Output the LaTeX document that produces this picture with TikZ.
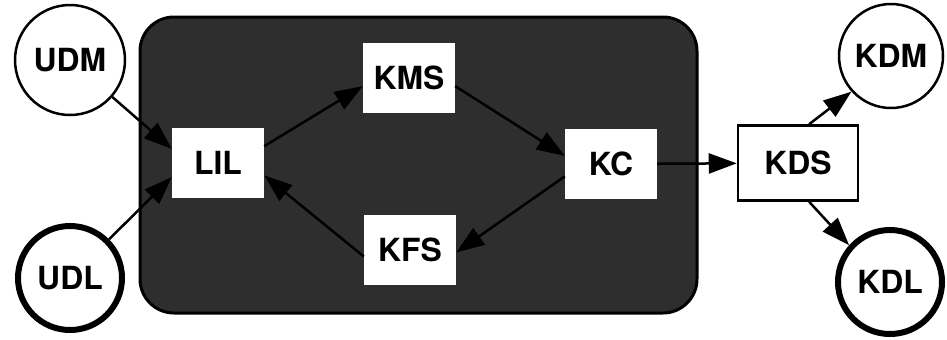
\documentclass[tikz,border=0pt]{standalone}
\usepackage{fontspec}
\setmainfont{TeX Gyre Heros}
\usetikzlibrary{arrows.meta}
\begin{document}
\begin{tikzpicture}[x=1bp,y=-1bp,
  lbl/.style={font=\fontsize{32}{32}\selectfont\bfseries},
  thincirc/.style={circle,draw,line width=2.5bp,minimum size=110bp,inner sep=0pt,lbl},
  thickcirc/.style={circle,draw,line width=6bp,minimum size=104bp,inner sep=0pt,lbl},
  wbox/.style={rectangle,fill=white,minimum width=92bp,minimum height=70bp,inner sep=0pt,lbl},
  arr/.style={line width=2.5bp,-{Triangle[length=28bp,width=20bp]}},
  panel/.style={fill=black!82,draw=black,line width=3bp,rounded corners=34bp}]
\useasboundingbox (0,0) rectangle (947,339);
\path[panel] (140,17) rectangle (697,313);
\node[thincirc] (UDM) at (70,60) {UDM};
\node[thickcirc] (UDL) at (70,278) {UDL};
\node[wbox] (LIL) at (218,163) {LIL};
\node[wbox] (KMS) at (409,78) {KMS};
\node[wbox] (KFS) at (410,250) {KFS};
\node[wbox] (KC) at (611,164) {KC};
\node[wbox,draw,line width=2.5bp,minimum width=120bp,minimum height=75bp] (KDS) at (798,163) {KDS};
\node[thincirc,minimum size=104bp] (KDM) at (891,56) {KDM};
\node[thickcirc] (KDL) at (890,282) {KDL};
\draw[arr] (UDM) -- (LIL.163);
\draw[arr] (UDL) -- (LIL.197);
\draw[arr] (LIL.20) -- (KMS.190);
\draw[arr] (KMS.-10) -- (KC.170);
\draw[arr] (KC.195) -- (KFS.-3);
\draw[arr] (KFS.188) -- (LIL.-15);
\draw[arr] (KC) -- (KDS);
\draw[arr] (KDS.74) -- (KDM.222);
\draw[arr] (KDS.-74) -- (KDL.138);
\end{tikzpicture}
\end{document}
